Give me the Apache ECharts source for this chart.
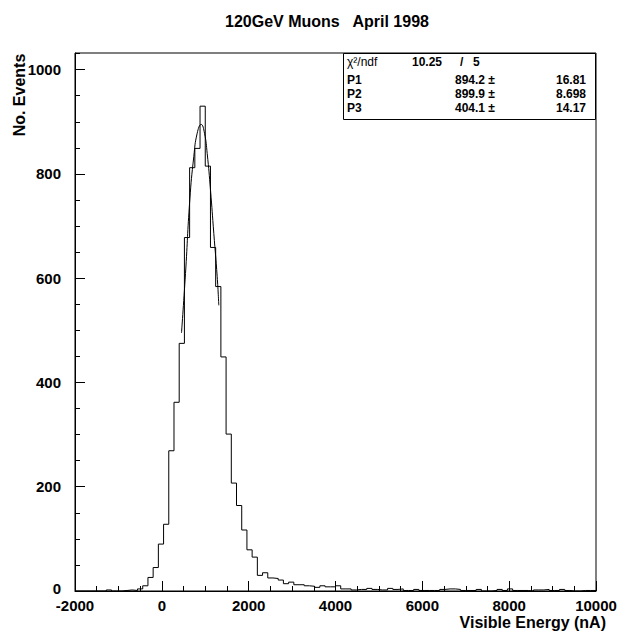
<!DOCTYPE html>
<html><head><meta charset="utf-8">
<script src="https://cdn.jsdelivr.net/npm/echarts@6/dist/echarts.min.js"></script>
<style>html,body{margin:0;padding:0;background:#fff}#c{width:621px;height:632px}</style>
</head><body><div id="c"></div>
<script>
// Histogram: 100 bins of width 120 from -2000 to 10000
const binStart = -2000;
const binWidth = 120;
const counts = [
  0, 0, 0, 0, 0, 0, 2, 0, 0, 1,
  2, 1, 4, 10, 26, 45, 90, 128, 269, 362,
  475, 678, 812, 849, 930, 815, 659, 584, 449, 301,
  207, 164, 117, 79, 65, 30, 35, 25, 24, 21,
  14, 17, 12, 12, 10, 9, 7, 10, 8, 8,
  10, 4, 4, 2, 3, 3, 5, 3, 2, 2,
  5, 3, 4, 1, 1, 3, 1, 1, 1, 1,
  3, 4, 4, 3, 1, 1, 1, 3, 0, 0,
  1, 3, 1, 4, 1, 1, 1, 0, 2, 2,
  3, 1, 1, 3, 1, 0, 0, 1, 1, 1
];
// Gaussian fit curve
const fitX = [453, 545, 644, 736, 814, 906, 983, 1045, 1121, 1197, 1275, 1312];
const fitY = [495, 609, 750, 833, 878, 895, 878, 839, 769, 686, 603, 548];

const xTicks = [-2000, 0, 2000, 4000, 6000, 8000, 10000];
const yTicks = [0, 200, 400, 600, 800, 1000];

const titleText = '120GeV Muons   April 1998';
const xTitle = 'Visible Energy (nA)';
const yTitle = 'No. Events';
const statsRows = [
  ['P1', '894.2 \u00b1', '16.81'],
  ['P2', '899.9 \u00b1', '8.698'],
  ['P3', '404.1 \u00b1', '14.17']
];
const chi2 = '10.25', ndf = '5';

const histData = counts.map((c, i) => [binStart + i * binWidth, c]);
histData.push([binStart + counts.length * binWidth, counts[counts.length - 1]]);
const fitData = fitX.map((x, i) => [x, fitY[i]]);

const FONT = '"Liberation Sans", Arial, Helvetica, sans-serif';
const chart = echarts.init(document.getElementById('c'), null, {renderer: 'svg'});

const graphics = [
  {type: 'text', x: 327, y: 21.5, style: {text: titleText, font: 'bold 16px ' + FONT, fill: '#000', textAlign: 'center', textVerticalAlign: 'middle'}},
  {type: 'text', x: 606, y: 622, style: {text: xTitle, font: 'bold 16px ' + FONT, lineHeight: 16, fill: '#000', textAlign: 'right', textVerticalAlign: 'middle'}},
  {type: 'text', x: 19, y: 95, rotation: Math.PI / 2, style: {text: yTitle, font: 'bold 16px ' + FONT, fill: '#000', textAlign: 'center', textVerticalAlign: 'middle'}},
  {type: 'rect', shape: {x: 343.5, y: 53.5, width: 252, height: 66}, style: {fill: '#fff', stroke: '#000', lineWidth: 1}, z: 10}
];
function addText(x, y, text, bold, align) {
  graphics.push({type: 'text', x: x, y: y, z: 11,
    style: {text: text, font: (bold ? 'bold ' : '') + '12px ' + FONT, fill: '#000', textAlign: align || 'left', textVerticalAlign: 'middle'}});
}
addText(347, 62, '\u03c7\u00b2/ndf', false);
addText(412, 62, chi2, true);
addText(460, 62, '/', true);
addText(473, 62, ndf, true);
statsRows.forEach((r, i) => {
  const y = 79.5 + i * 14;
  addText(347, y, r[0], true);
  addText(455, y, r[1], true);
  addText(586, y, r[2], true, 'right');
});

const labelStyle = {color: '#000', fontWeight: 'bold', fontSize: 15, lineHeight: 14, fontFamily: FONT};

const option = {
  backgroundColor: '#fff',
  animation: false,
  grid: {left: 75, right: 25, top: 53, bottom: 41, show: true, borderColor: '#000', borderWidth: 1, containLabel: false, outerBoundsMode: 'none'},
  xAxis: {
    type: 'value', min: -2000, max: 10000, interval: 2000,
    axisLine: {show: true, onZero: false, lineStyle: {color: '#000', width: 1}},
    axisTick: {show: true, inside: true, length: 10, lineStyle: {color: '#000'}},
    minorTick: {show: true, splitNumber: 4, length: 5, lineStyle: {color: '#000'}},
    splitLine: {show: false},
    axisLabel: Object.assign({margin: 7, formatter: v => xTicks.indexOf(v) >= 0 ? String(v) : ''}, labelStyle)
  },
  yAxis: [{
    type: 'value', min: 0, max: 1032, interval: 200,
    axisLine: {show: true, onZero: false, lineStyle: {color: '#000', width: 1}},
    axisTick: {show: true, inside: true, length: 10, lineStyle: {color: '#000'}},
    splitLine: {show: false},
    axisLabel: Object.assign({margin: 14, showMaxLabel: false,
      formatter: v => v === 0 ? '{z|0}' : (yTicks.indexOf(v) >= 0 ? String(v) : ''),
      rich: {z: Object.assign({padding: [0, 0, 5, 0]}, labelStyle)}}, labelStyle)
  }, {
    type: 'value', min: 0, max: 1032, interval: 50, position: 'left',
    axisLine: {show: false, onZero: false},
    axisTick: {show: true, inside: true, length: 5, lineStyle: {color: '#000'}},
    splitLine: {show: false},
    axisLabel: {show: false}
  }],
  series: [{
    type: 'line', step: 'end', data: histData, showSymbol: false, symbol: 'none',
    lineStyle: {color: '#000', width: 1}, silent: true, yAxisIndex: 0, z: 3
  }, {
    type: 'line', smooth: 0.5, data: fitData, showSymbol: false, symbol: 'none',
    lineStyle: {color: '#000', width: 1}, silent: true, yAxisIndex: 0, z: 4
  }],
  graphic: graphics
};
chart.setOption(option);
</script>
</body></html>
